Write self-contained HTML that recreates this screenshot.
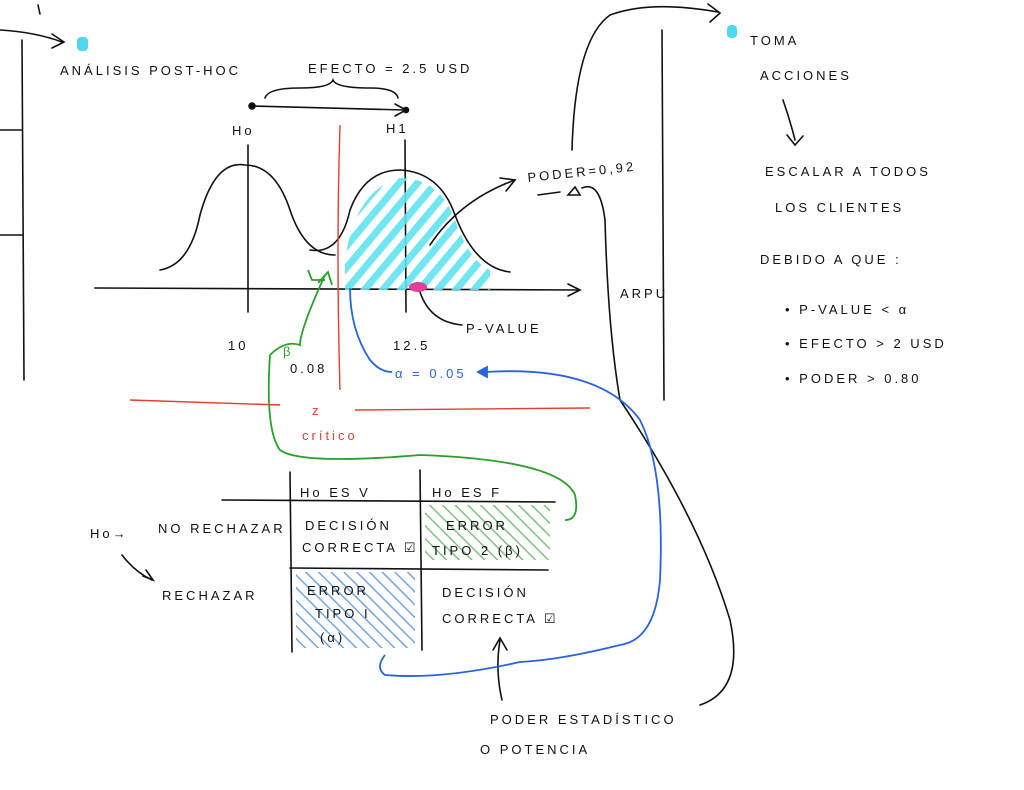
<!DOCTYPE html>
<html><head><meta charset="utf-8"><style>
html,body{margin:0;padding:0;background:#fff;}
svg{display:block}
text{font-family:"Liberation Sans",sans-serif;font-size:13px;letter-spacing:3px;fill:#111}
</style></head><body>
<svg width="1024" height="790" viewBox="0 0 1024 790" xmlns="http://www.w3.org/2000/svg">
<defs>
<pattern id="cy" width="14" height="14" patternUnits="userSpaceOnUse" patternTransform="rotate(40)"><rect width="7" height="14" fill="#5fe3f0"/></pattern>
<pattern id="bl" width="9" height="9" patternUnits="userSpaceOnUse" patternTransform="rotate(-45)"><rect width="1.5" height="9" fill="#3b7de0"/></pattern>
<pattern id="gr" width="9" height="9" patternUnits="userSpaceOnUse" patternTransform="rotate(-45)"><rect width="1.5" height="9" fill="#2a9a2a"/></pattern>
</defs>
<g fill="none" stroke="#111" stroke-width="1.6" stroke-linecap="round">
<!-- left margin -->
<path d="M22 40 L24 380"/><path d="M0 130 L22 130"/><path d="M0 235 L22 235"/>
<path d="M0 30 Q35 32 62 42"/><path d="M52 34 L64 42 L52 48"/>
<path d="M38 5 L40 14"/>
<!-- brace and double line -->
<path d="M265 98 Q268 88 300 88 Q330 88 333 80 Q336 88 370 88 Q396 88 398 98"/>
<path d="M250 106 L405 110"/><path d="M395 104 L406 110 L395 116"/>
<circle cx="252" cy="106" r="3" fill="#111"/><circle cx="406" cy="110" r="2.5" fill="#111"/>
<!-- verticals -->
<path d="M248 145 L248 312"/><path d="M405 140 L406 312"/>
<!-- curves -->
<path d="M160 270 Q190 265 200 215 Q215 160 245 165 Q275 165 290 210 Q305 255 335 255"/>
<path d="M310 250 Q340 255 350 210 Q365 170 400 170 Q440 172 455 215 Q475 268 510 272"/>
<!-- axis -->
<path d="M95 288 L580 290"/><path d="M568 284 L580 290 L568 296"/>
<!-- p-value pointer -->
<path d="M420 292 Q430 322 462 325"/>
<!-- arrow to poder -->
<path d="M430 245 Q460 200 515 180"/><path d="M500 178 L515 180 L506 191"/>
<path d="M538 195 L560 192"/><path d="M568 195 L575 187 L580 195 Z"/>
<!-- right vertical -->
<path d="M662 30 L664 400"/>
<!-- arrow to toma -->
<path d="M572 150 Q575 40 610 15 Q650 0 718 12"/><path d="M708 4 L720 13 L710 22"/>
<!-- big black curve -->
<path d="M582 188 Q600 180 605 220 Q608 330 620 400 Q700 520 730 620 Q745 690 700 705"/>
<!-- toma arrow down -->
<path d="M783 100 Q790 120 795 140"/><path d="M787 135 L795 145 L803 136"/>
<!-- table -->
<path d="M222 500 L555 502"/><path d="M290 568 L548 570"/>
<path d="M290 472 L292 652"/><path d="M420 470 L422 650"/>
<path d="M122 555 Q135 572 152 580"/><path d="M143 576 L153 580 L146 570"/>
<!-- poder estadistico arrow -->
<path d="M502 700 Q495 670 500 640"/><path d="M493 650 L500 638 L507 650"/>
</g>
<!-- hatching -->
<path d="M345 260 Q355 190 400 178 Q440 178 455 220 Q470 262 490 270 L490 290 L345 290 Z" fill="url(#cy)" opacity="0.9"/>
<path d="M296 572 L415 572 L415 648 L296 648 Z" fill="url(#bl)" opacity="0.7"/>
<path d="M425 505 L550 505 L550 560 L425 560 Z" fill="url(#gr)" opacity="0.6"/>
<ellipse cx="418" cy="287" rx="9" ry="5" fill="#e0409a"/>
<rect x="77" y="37" width="11" height="14" rx="4" fill="#4fd8ee"/>
<rect x="727" y="25" width="10" height="13" rx="4" fill="#4fd8ee"/>
<!-- red -->
<g fill="none" stroke="#e04030" stroke-width="1.4">
<path d="M340 125 Q336 250 340 390"/>
<path d="M130 400 L280 405"/><path d="M355 410 L590 408"/>
</g>
<!-- green -->
<g fill="none" stroke="#2aa02a" stroke-width="1.8">
<path d="M325 275 Q300 330 300 345 Q285 340 270 355 Q265 430 280 450 Q300 465 420 455 Q560 460 575 495 Q580 520 565 520"/>
<path d="M318 283 L328 272 L332 285"/>
<path d="M308 270 L312 280 L325 280"/>
</g>
<!-- blue -->
<g fill="none" stroke="#2a62e0" stroke-width="1.8">
<path d="M350 288 Q350 330 370 360 Q380 372 392 372"/>
<path d="M485 372 Q600 365 640 420 Q665 470 660 580 Q655 640 620 645 Q560 660 520 662 Q440 680 385 675 Q375 668 385 655"/>
<path d="M487 367 L478 372 L487 377 Z" fill="#2a62e0"/>
</g>
<!-- labels -->
<text x="60" y="75" font-size="12">ANÁLISIS POST-HOC</text>
<text x="308" y="73" font-size="13">EFECTO = 2.5 USD</text>
<text x="232" y="135" font-size="15">Ho</text><text x="386" y="133" font-size="15">H1</text>
<text x="228" y="350" font-size="14">10</text><text x="393" y="350" font-size="14">12.5</text>
<text x="466" y="333" font-size="11" letter-spacing="1">P-VALUE</text>
<text x="528" y="182" font-size="13" letter-spacing="1" transform="rotate(-6 528 182)">PODER=0,92</text>
<text x="283" y="356" font-size="14" fill="#2aa02a" style="fill:#2aa02a">β</text>
<text x="290" y="373" font-size="8" letter-spacing="1">0.08</text>
<text x="395" y="378" font-size="12" style="fill:#2a62e0">α = 0.05</text>
<text x="312" y="415" font-size="15" style="fill:#e04030">z</text>
<text x="302" y="440" font-size="11" style="fill:#e04030" letter-spacing="1">crítico</text>
<text x="620" y="298" font-size="14">ARPU</text>
<text x="750" y="45" font-size="13">TOMA</text>
<text x="760" y="80" font-size="13">ACCIONES</text>
<text x="765" y="176" font-size="12">ESCALAR A TODOS</text>
<text x="775" y="212" font-size="12">LOS CLIENTES</text>
<text x="760" y="264" font-size="11" letter-spacing="2">DEBIDO A QUE :</text>
<text x="785" y="314" font-size="13">• P-VALUE &lt; α</text>
<text x="785" y="348" font-size="11">• EFECTO &gt; 2 USD</text>
<text x="785" y="383" font-size="11">• PODER &gt; 0.80</text>
<text x="300" y="497" font-size="17" letter-spacing="1">Ho ES V</text>
<text x="432" y="497" font-size="17" letter-spacing="1">Ho ES F</text>
<text x="90" y="538" font-size="16" letter-spacing="1">Ho→</text>
<text x="158" y="533" font-size="11" letter-spacing="1">NO RECHAZAR</text>
<text x="162" y="600" font-size="11" letter-spacing="1">RECHAZAR</text>
<text x="305" y="530" font-size="11" letter-spacing="1">DECISIÓN</text>
<text x="302" y="552" font-size="10" letter-spacing="1">CORRECTA ☑</text>
<text x="446" y="530" font-size="12">ERROR</text>
<text x="432" y="555" font-size="14">TIPO 2 (β)</text>
<text x="307" y="595" font-size="14">ERROR</text>
<text x="315" y="618" font-size="14">TIPO I</text>
<text x="320" y="642" font-size="14">(α)</text>
<text x="442" y="597" font-size="11" letter-spacing="1">DECISIÓN</text>
<text x="442" y="623" font-size="10" letter-spacing="1">CORRECTA ☑</text>
<text x="490" y="724" font-size="12" letter-spacing="1">PODER ESTADÍSTICO</text>
<text x="480" y="754" font-size="11" letter-spacing="1">O POTENCIA</text>
</svg>
</body></html>
